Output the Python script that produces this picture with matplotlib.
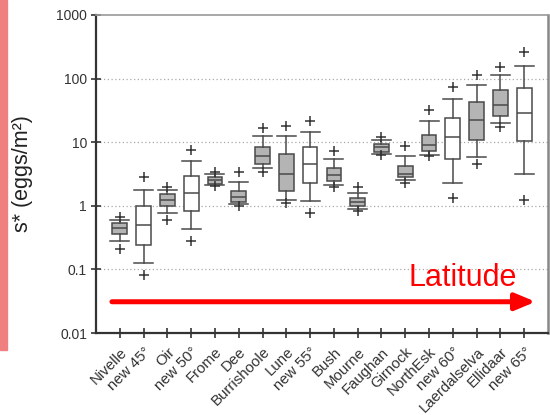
import matplotlib
matplotlib.use('Agg')
import matplotlib.pyplot as plt
from matplotlib.patches import Rectangle

names = ['Nivelle', 'new 45°', 'Oir', 'new 50°', 'Frome', 'Dee', 'Burrishoole',
         'Lune', 'new 55°', 'Bush', 'Mourne', 'Faughan', 'Girnock', 'NorthEsk',
         'new 60°', 'Laerdalselva', 'Ellidaar', 'new 65°']
shaded = [1, 0, 1, 0, 1, 1, 1, 1, 0, 1, 1, 1, 1, 1, 0, 1, 1, 0]
whislo = [0.275, 0.124, 0.768, 0.424, 2.16, 1.07, 3.86, 1.24, 1.2, 2.14, 0.887,
          6.64, 2.56, 6.34, 2.32, 5.9, 20.4, 3.15]
q1 = [0.366, 0.246, 0.99, 0.826, 2.24, 1.16, 4.62, 1.68, 2.32, 2.47, 0.975,
      7.14, 2.79, 7.32, 5.35, 11.0, 26, 10.5]
med = [0.446, 0.497, 1.23, 1.58, 2.56, 1.385, 6.11, 3.15, 4.52, 3.07, 1.14,
       8.26, 3.22, 9.1, 11.9, 22.5, 38.3, 29.3]
q3 = [0.527, 1.0, 1.53, 2.89, 2.86, 1.68, 8.47, 6.64, 8.47, 4.0, 1.35,
      9.33, 4.21, 12.9, 24.2, 43.6, 65.9, 71.7]
whishi = [0.596, 1.80, 1.77, 5.1, 3.15, 2.38, 12.6, 12.5, 14.6, 5.54, 1.6,
          10.8, 6.04, 21.7, 48.6, 78, 113.5, 155]
out_hi = [0.671, 2.79, 1.99, 7.5, 3.46, 3.34, 17.0, 18.3, 21.7, 7.32, 1.99,
          12.2, 8.68, 32, 73.5, 112, 151, 261]
out_lo = [0.208, 0.082, 0.602, 0.275, 2.04, 0.975, 3.42, 1.09, 0.776, 1.94, 0.814,
          6.27, 2.32, 6.04, 1.35, 4.52, 17.5, 1.23]
yticks = [0.01, 0.1, 1, 10, 100, 1000]
ytick_labels = ['0.01', '0.1', '1', '10', '100', '1000']

plt.rcParams['font.family'] = ['Liberation Sans', 'DejaVu Sans']
edge = '#4a4a4a'

fig = plt.figure(figsize=(5.5, 4.15), dpi=100)
fig.patches.append(Rectangle((0, 0.157), 7 / 550, 1 - 0.157, transform=fig.transFigure,
                             color='#f08080', zorder=0))
ax = fig.add_axes([96 / 550, 82 / 415, 452 / 550, 318 / 415])

stats = []
for i in range(len(names)):
    stats.append(dict(med=med[i], q1=q1[i], q3=q3[i], whislo=whislo[i], whishi=whishi[i],
                      fliers=[out_lo[i], out_hi[i]], label=names[i]))

pos = list(range(len(names)))
bp = ax.bxp(stats, positions=pos, widths=0.62, capwidths=0.8, patch_artist=True,
            boxprops=dict(edgecolor=edge, linewidth=1.1),
            medianprops=dict(color=edge, linewidth=1.1),
            whiskerprops=dict(color=edge, linewidth=1.1),
            capprops=dict(color=edge, linewidth=1.1),
            flierprops=dict(marker='+', markeredgecolor='#333333', markersize=7,
                            markeredgewidth=1.1))
for box, s in zip(bp['boxes'], shaded):
    box.set_facecolor('#b4b4b4' if s else 'white')

ax.set_yscale('log')
ax.set_ylim(0.01, 1000)
ax.set_xlim(-1, 18)
ax.set_yticks(yticks)
ax.set_yticklabels(ytick_labels)
ax.minorticks_off()
ax.set_xticks(pos)
ax.set_xticklabels(names, rotation=45, ha='right', rotation_mode='anchor')
ax.tick_params(axis='both', labelsize=10, labelcolor='#333333', color='#333333',
               direction='inout', length=7, width=1.2)
ax.tick_params(axis='y', pad=3)
ax.tick_params(axis='x', pad=5, labelsize=10.8)
for y in [0.1, 1, 10, 100]:
    ax.axhline(y, color='#aaaaaa', linestyle=(0, (1, 2)), linewidth=0.9, zorder=0)

ax.spines['left'].set_color('#333333')
ax.spines['left'].set_linewidth(1.6)
ax.spines['bottom'].set_color('#333333')
ax.spines['bottom'].set_linewidth(1.6)
ax.spines['top'].set_color('#9a9a9a')
ax.spines['top'].set_linewidth(1.2)
ax.spines['right'].set_color('#888888')
ax.spines['right'].set_linewidth(1.8)

ax.set_ylabel('s* (eggs/m²)', fontsize=15.5, color='#222222')
ax.yaxis.set_label_coords(-0.139, 0.5)

# latitude arrow
ax.annotate('', xy=(17.48, 0.031), xytext=(-0.33, 0.031),
            arrowprops=dict(arrowstyle='-|>,head_length=1.2,head_width=0.5',
                            lw=3.6, color='#ff0000', shrinkA=0, shrinkB=0))
ax.text(16.68, 0.0552, 'Latitude', color='#ff0000', fontsize=22, ha='right',
        va='baseline')

fig.savefig('out.png', dpi=100)
